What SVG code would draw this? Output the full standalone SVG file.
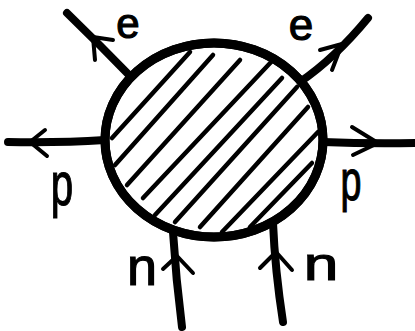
<svg xmlns="http://www.w3.org/2000/svg" width="415" height="331" viewBox="0 0 415 331">
<style>
.line{fill:none;stroke:#000;stroke-width:8;stroke-linecap:round;stroke-linejoin:round}
.head{fill:none;stroke:#000;stroke-width:4;stroke-linecap:round;stroke-linejoin:round}
.hatch{fill:none;stroke:#000;stroke-width:4.5;stroke-linecap:round}
.rim{fill:#fff;stroke:#000;stroke-width:9}
.lbl{font-family:"Liberation Sans",Arial,sans-serif;fill:#000;stroke:#000;stroke-width:1.2;text-anchor:middle}
</style>
<rect width="415" height="331" fill="#fff"/>
<g id="connectors">
  <g id="e-left"><path class="line" d="M132,78 Q100,45 67,13"/><polyline class="head" points="95,60 93,37 113,40"/></g>
  <g id="p-left"><path class="line" d="M105,140 Q60,143 8,142"/><polyline class="head" points="45,130 30,142 47,156"/></g>
  <g id="e-right"><path class="line" d="M300,82 Q335,58 368,18"/><polyline class="head" points="320,50 342,44 332,70"/></g>
  <g id="p-right"><path class="line" d="M323,142 Q370,144 415,143"/><polyline class="head" points="352,127 378,143 353,155"/></g>
  <g id="n-left"><path class="line" d="M182,327 Q176,280 173,232"/><polyline class="head" points="163,269 177,256 193,273"/></g>
  <g id="n-right"><path class="line" d="M283,322 Q275,270 273,223"/><polyline class="head" points="260,268 276,252 292,270"/></g>
</g>
<g id="blob">
  <ellipse class="rim" cx="214" cy="140" rx="109" ry="97"/>
  <path class="hatch" d="M190,52 L112,138 M213,55 L115,165 M240,60 L127,185 M273,60 L143,198 M282,78 L155,215 M297,87 L175,222 M308,107 L200,227 M318,132 L222,232 M312,163 L250,227"/>
  <ellipse cx="214" cy="140" rx="109" ry="97" fill="none" stroke="#000" stroke-width="9"/>
</g>
<g id="labels">
  <text id="lbl-e-left" class="lbl" x="128" y="38" font-size="42">e</text>
  <text id="lbl-e-right" class="lbl" x="301" y="40" font-size="44">e</text>
  <text id="lbl-p-left" class="lbl" font-size="62" transform="translate(62,205) scale(0.65,1)">p</text>
  <text id="lbl-p-right" class="lbl" font-size="58" transform="translate(351,200) scale(0.65,1)">p</text>
  <text id="lbl-n-left" class="lbl" x="142" y="285" font-size="54">n</text>
  <text id="lbl-n-right" class="lbl" font-size="46" transform="translate(321,280) scale(1.35,1)">n</text>
</g>
</svg>
